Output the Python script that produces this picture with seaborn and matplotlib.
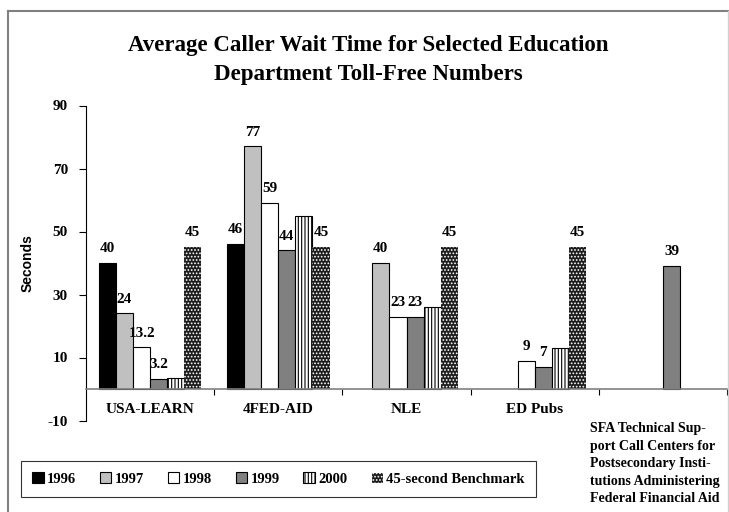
import pandas as pd
import seaborn as sns
import matplotlib.pyplot as plt
from matplotlib.patches import Patch
from matplotlib.lines import Line2D

# Chart data
categories = ["USA-LEARN", "4FED-AID", "NLE", "ED Pubs", "SFA"]
sfa_label = ("SFA Technical Sup-\nport Call Centers for\nPostsecondary Insti-\n"
             "tutions Administering\nFederal Financial Aid")
years = ["1996", "1997", "1998", "1999", "2000", "45-second Benchmark"]

v1996 = [40, 46, None, None, None]
v1997 = [24, 77, 40, None, None]
v1998 = [13.2, 59, 23, 9, None]
v1999 = [3.2, 44, 23, 7, 39]
v2000 = [3.5, 55, 26, 13, None]
v_bench = [45, 45, 45, 45, None]

# labels shown above bars (2000 values are not labelled in the original)
show_label = {"1996": True, "1997": True, "1998": True, "1999": True,
              "2000": False, "45-second Benchmark": True}

y_ticks = [-10, 10, 30, 50, 70, 90]

# Build long table
rows = []
for year, vals in zip(years, [v1996, v1997, v1998, v1999, v2000, v_bench]):
    for cat, v in zip(categories, vals):
        if v is not None:
            rows.append({"number": cat, "year": year, "seconds": v})
df = pd.DataFrame(rows)

# Styles per series
styles = {
    "1996": dict(facecolor="black", edgecolor="black", hatch=None),
    "1997": dict(facecolor="#c0c0c0", edgecolor="black", hatch=None),
    "1998": dict(facecolor="white", edgecolor="black", hatch=None),
    "1999": dict(facecolor="#808080", edgecolor="black", hatch=None),
    "2000": dict(facecolor="white", edgecolor="black", hatch="|||||"),
    "45-second Benchmark": dict(facecolor="#1c1c1c", edgecolor="white", hatch="....."),
}

serif = ["Liberation Serif", "DejaVu Serif"]
plt.rcParams["hatch.linewidth"] = 0.8

fig = plt.figure(figsize=(7.29, 5.12), dpi=100)
ax = fig.add_axes([86 / 729, 1 - 420.5 / 512, (727 - 86) / 729, (420.5 - 105.5) / 512])

sns.barplot(data=df, x="number", y="seconds", hue="year",
            order=categories, hue_order=years, width=0.8,
            palette=["black"] * 6, legend=False, ax=ax)

# Apply fills / hatches and value labels
for year, cont in zip(years, ax.containers):
    st = styles[year]
    for bar in cont:
        bar.set_facecolor(st["facecolor"])
        bar.set_edgecolor(st["edgecolor"])
        bar.set_linewidth(0.8 if st["edgecolor"] == "black" else 0)
        if st["hatch"]:
            bar.set_hatch(st["hatch"])
        if show_label[year]:
            h = bar.get_height()
            ax.text(bar.get_x() + bar.get_width() / 2, h + 2.5, f"{h:g}",
                    ha="center", va="bottom", fontsize=11,
                    fontweight="bold", family=serif)

# Axes styling
ax.set_ylim(-10, 90)
ax.set_xlim(-0.5, 4.5)
ax.set_yticks(y_ticks)
ax.set_yticklabels([str(t) for t in y_ticks], fontsize=11,
                   fontweight="bold", family=serif)
ax.tick_params(axis="y", length=5, width=0.8, pad=8)

ax.spines["top"].set_visible(False)
ax.spines["right"].set_visible(False)
ax.spines["left"].set_linewidth(0.8)
ax.spines["bottom"].set_position(("data", 0))
ax.spines["bottom"].set_color("#808080")
ax.spines["bottom"].set_linewidth(1.2)

ax.set_xticks(range(len(categories)))
ax.set_xticklabels(categories[:4] + [""], fontsize=11,
                   fontweight="bold", family=serif)
ax.tick_params(axis="x", which="major", length=0, pad=10)
ax.set_xticks([i + 0.5 for i in range(len(categories))], minor=True)
ax.tick_params(axis="x", which="minor", length=4, width=0.8, color="black")

ax.text(3.43, -10.5, sfa_label, ha="left", va="top", multialignment="left",
        fontsize=10, fontweight="bold", family=serif, linespacing=1.45,
        clip_on=False)

ax.set_xlabel("")
ax.set_ylabel("Seconds", fontsize=10, fontweight="bold",
              family=["Liberation Sans", "DejaVu Sans"], labelpad=9)
ax.set_facecolor("none")

# Title
fig.text(368 / 729, 1 - 60 / 512,
         "Average Caller Wait Time for Selected Education\nDepartment Toll-Free Numbers",
         ha="center", va="center", fontsize=16.5, fontweight="bold",
         family=serif, linespacing=1.5)

# Legend
handles = [Patch(facecolor=styles[y]["facecolor"], edgecolor=styles[y]["edgecolor"],
                 hatch=styles[y]["hatch"], linewidth=0.8) for y in years]
leg = fig.legend(handles, years, loc="upper left",
                 bbox_to_anchor=(21 / 729, 1 - 461 / 512), ncol=6,
                 handlelength=0.8, handleheight=0.8, handletextpad=0.25,
                 columnspacing=1.6, borderpad=0.75, borderaxespad=0,
                 fancybox=False,
                 prop={"family": serif, "weight": "bold", "size": 10.5})
leg.get_frame().set_edgecolor("black")
leg.get_frame().set_linewidth(0.8)

# Outer chart border
fig.add_artist(Line2D([8 / 729, 8 / 729], [0, 1 - 11 / 512], color="#808080",
                      lw=1.5, transform=fig.transFigure))
fig.add_artist(Line2D([8 / 729, 1], [1 - 11 / 512, 1 - 11 / 512], color="#808080",
                      lw=1.5, transform=fig.transFigure))
fig.add_artist(Line2D([728 / 729, 728 / 729], [0, 1 - 11 / 512], color="#d0d0d0",
                      lw=1, transform=fig.transFigure))

fig.savefig("out.png", dpi=100)
